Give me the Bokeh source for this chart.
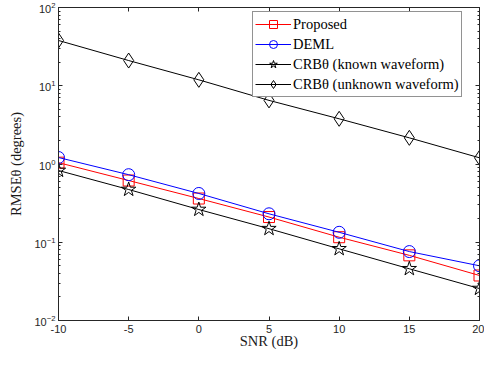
from bokeh.plotting import figure
from bokeh.models import LinearAxis, LogAxis, FixedTicker, Legend, LegendItem, Range1d
from bokeh.embed import file_html
from bokeh.resources import INLINE

snr = [-10, -5, 0, 5, 10, 15, 20]
proposed = [1.04, 0.615, 0.362, 0.21, 0.116, 0.068, 0.0376]
deml = [1.21, 0.73, 0.42, 0.231, 0.134, 0.076, 0.050]
crb_known = [0.826, 0.472, 0.262, 0.149, 0.0824, 0.0458, 0.0256]
crb_unknown = [37.9, 21.0, 11.9, 6.5, 3.78, 2.16, 1.20]

x_ticks = [-10, -5, 0, 5, 10, 15, 20]
x_tick_labels = ["-10", "-5", "0", "5", "10", "15", "20"]
y_ticks = [1e-2, 1e-1, 1e0, 1e1, 1e2]
labels = ["Proposed", "DEML", "CRB\u03b8 (known waveform)", "CRB\u03b8 (unknown waveform)"]

AX = "#262626"
TICK_FONT = "Liberation Sans"
SERIF = "Liberation Serif"

p = figure(width=484, height=366, y_axis_type="log",
           x_range=Range1d(-10, 20), y_range=Range1d(1e-2, 1e2),
           output_backend="svg", toolbar_location=None,
           min_border_left=58, min_border_right=5, min_border_top=7, min_border_bottom=46)
p.frame_width = 421
p.frame_height = 313
p.grid.visible = False
p.outline_line_color = AX
p.outline_line_width = 1
p.background_fill_color = "white"
p.border_fill_color = "white"

minor = [m * 10.0 ** k for k in range(-2, 2) for m in range(2, 10)]

def style(ax):
    ax.axis_line_color = AX
    ax.axis_line_width = 1
    ax.major_tick_line_color = AX
    ax.minor_tick_line_color = AX
    ax.major_tick_in = 4
    ax.major_tick_out = 0
    ax.minor_tick_in = 2
    ax.minor_tick_out = 0
    ax.major_label_text_font = TICK_FONT
    ax.major_label_text_font_size = "11px"
    ax.major_label_text_color = AX
    ax.axis_label_text_font = SERIF
    ax.axis_label_text_font_size = "14.5px"
    ax.axis_label_text_font_style = "normal"
    ax.axis_label_text_color = "#1a1a1a"

xa = p.xaxis[0]
xa.ticker = FixedTicker(ticks=x_ticks)
xa.major_label_overrides = {v: s for v, s in zip(x_ticks, x_tick_labels)}
xa.axis_label = "SNR (dB)"
xa.axis_label_standoff = -3
xa.major_label_standoff = 4
style(xa)

ya = p.yaxis[0]
ya.ticker = FixedTicker(ticks=y_ticks, minor_ticks=minor)
ya.axis_label = "RMSE\u03b8 (degrees)"
ya.axis_label_standoff = 7
ya.major_label_standoff = 3
style(ya)

top = LinearAxis(ticker=FixedTicker(ticks=x_ticks))
style(top)
top.major_label_overrides = {v: "" for v in x_ticks}
top.major_label_standoff = 0
p.add_layout(top, "above")

right = LogAxis(ticker=FixedTicker(ticks=y_ticks, minor_ticks=minor))
style(right)
right.major_label_overrides = {v: "" for v in y_ticks}
right.major_label_standoff = 0
p.add_layout(right, "right")

r1 = p.line(snr, proposed, line_color="red", line_width=1)
m1 = p.scatter(snr, proposed, marker="square", size=11, fill_color=None, line_color="red", line_width=1)
r2 = p.line(snr, deml, line_color="blue", line_width=1)
m2 = p.scatter(snr, deml, marker="circle", size=12, fill_color=None, line_color="blue", line_width=1)
r3 = p.line(snr, crb_known, line_color="black", line_width=1)
m3 = p.scatter(snr, crb_known, marker="star", size=15, fill_color=None, line_color="black", line_width=1)
r4 = p.line(snr, crb_unknown, line_color="black", line_width=1)
m4 = p.scatter(snr, crb_unknown, marker="diamond", size=15, fill_color=None, line_color="black", line_width=1)

legend = Legend(items=[LegendItem(label=labels[0], renderers=[r1, m1]),
                       LegendItem(label=labels[1], renderers=[r2, m2]),
                       LegendItem(label=labels[2], renderers=[r3, m3]),
                       LegendItem(label=labels[3], renderers=[r4, m4])],
                location=(194, 223))
legend.label_text_font = SERIF
legend.label_text_font_size = "14.5px"
legend.label_text_color = "black"
legend.border_line_color = AX
legend.border_line_width = 1
legend.background_fill_alpha = 1
legend.padding = 2
legend.spacing = 0
legend.margin = 0
legend.glyph_width = 36
legend.glyph_height = 20
legend.label_height = 20
legend.label_standoff = 2
p.add_layout(legend)

open("out.html", "w").write(file_html(p, INLINE))
